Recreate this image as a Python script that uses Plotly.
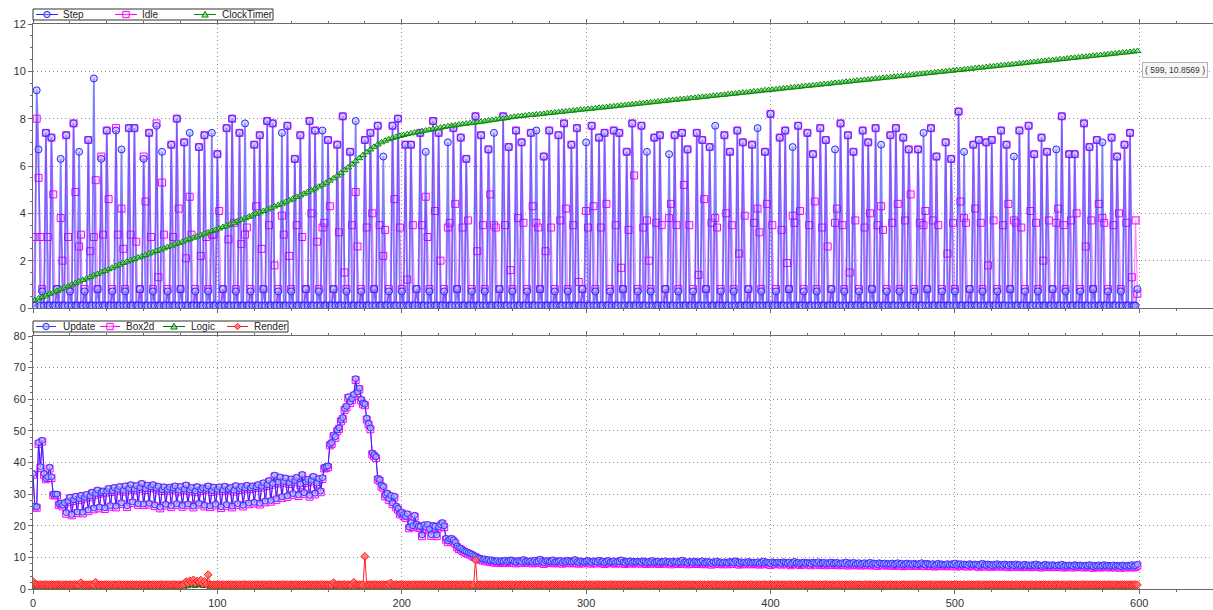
import plotly.graph_objects as go

# ---------------- upper panel: per-frame timings ----------------
step_ms = [
    0.2, 0.1, 9.2, 6.7, 0.1, 0.7, 0.1, 7.4, 0.1, 0.1, 7.2, 0.1, 0.1, 0.8, 0.1,
    6.3, 0.1, 0.1, 7.3, 0.1, 0.7, 0.1, 7.8, 0.1, 0.1, 6.6, 0.1, 0.1, 0.7, 0.1,
    7.1, 0.1, 0.1, 9.7, 0.1, 0.8, 0.1, 6.3, 0.1, 0.1, 7.5, 0.1, 0.1, 0.7, 0.1,
    7.5, 0.1, 0.1, 6.7, 0.1, 0.7, 0.1, 7.6, 0.1, 0.1, 7.6, 0.1, 0.1, 0.8, 0.1,
    6.3, 0.1, 0.1, 7.4, 0.1, 0.7, 0.1, 7.7, 0.1, 0.1, 6.6, 0.1, 0.1, 0.7, 0.1,
    6.9, 0.1, 0.1, 8.0, 0.1, 0.8, 0.1, 7.0, 0.1, 0.1, 7.4, 0.1, 0.1, 0.7, 0.1,
    6.8, 0.1, 0.1, 7.3, 0.1, 0.7, 0.1, 7.4, 0.1, 0.1, 6.5, 0.1, 0.1, 0.8, 0.1,
    7.6, 0.1, 0.1, 8.0, 0.1, 0.7, 0.1, 7.4, 0.1, 0.1, 7.8, 0.1, 0.1, 0.7, 0.1,
    6.9, 0.1, 0.1, 7.3, 0.1, 0.8, 0.1, 7.9, 0.1, 0.1, 7.8, 0.1, 0.1, 0.7, 0.1,
    7.4, 0.1, 0.1, 7.7, 0.1, 0.7, 0.1, 6.3, 0.1, 0.1, 7.3, 0.1, 0.1, 0.8, 0.1,
    7.9, 0.1, 0.1, 7.5, 0.1, 0.7, 0.1, 7.5, 0.1, 0.1, 7.1, 0.1, 0.1, 0.8, 0.1,
    6.9, 0.1, 0.1, 8.1, 0.1, 0.7, 0.1, 6.6, 0.1, 0.1, 7.9, 0.1, 0.1, 0.7, 0.1,
    7.1, 0.1, 0.1, 7.4, 0.1, 0.8, 0.1, 7.7, 0.1, 0.1, 6.4, 0.1, 0.1, 0.7, 0.1,
    7.7, 0.1, 0.1, 8.0, 0.1, 0.7, 0.1, 6.9, 0.1, 0.1, 6.9, 0.1, 0.1, 0.8, 0.1,
    7.4, 0.1, 0.1, 6.6, 0.1, 0.7, 0.1, 7.9, 0.1, 0.1, 7.4, 0.1, 0.1, 0.7, 0.1,
    7.0, 0.1, 0.1, 7.6, 0.1, 0.8, 0.1, 7.2, 0.1, 0.1, 6.3, 0.1, 0.1, 0.7, 0.1,
    8.1, 0.1, 0.1, 7.3, 0.1, 0.7, 0.1, 6.7, 0.1, 0.1, 7.4, 0.1, 0.1, 0.8, 0.1,
    8.1, 0.1, 0.1, 6.8, 0.1, 0.7, 0.1, 7.5, 0.1, 0.1, 7.0, 0.1, 0.1, 0.7, 0.1,
    7.4, 0.1, 0.1, 7.5, 0.1, 0.8, 0.1, 6.4, 0.1, 0.1, 7.5, 0.1, 0.1, 0.7, 0.1,
    7.3, 0.1, 0.1, 7.8, 0.1, 0.7, 0.1, 6.9, 0.1, 0.1, 7.6, 0.1, 0.1, 0.8, 0.1,
    7.0, 0.1, 0.1, 7.7, 0.1, 0.7, 0.1, 7.2, 0.1, 0.1, 7.4, 0.1, 0.1, 0.7, 0.1,
    7.5, 0.1, 0.1, 7.4, 0.1, 0.8, 0.1, 6.6, 0.1, 0.1, 7.8, 0.1, 0.1, 0.7, 0.1,
    7.7, 0.1, 0.1, 6.6, 0.1, 0.7, 0.1, 7.2, 0.1, 0.1, 7.3, 0.1, 0.1, 0.8, 0.1,
    6.5, 0.1, 0.1, 7.3, 0.1, 0.7, 0.1, 7.4, 0.1, 0.1, 6.7, 0.1, 0.1, 0.7, 0.1,
    7.4, 0.1, 0.1, 7.1, 0.1, 0.8, 0.1, 6.8, 0.1, 0.1, 7.7, 0.1, 0.1, 0.7, 0.1,
    7.3, 0.1, 0.1, 6.6, 0.1, 0.7, 0.1, 7.5, 0.1, 0.1, 7.0, 0.1, 0.1, 0.8, 0.1,
    6.9, 0.1, 0.1, 7.6, 0.1, 0.7, 0.1, 6.6, 0.1, 0.1, 8.2, 0.1, 0.1, 0.7, 0.1,
    7.2, 0.1, 0.1, 7.5, 0.1, 0.8, 0.1, 6.8, 0.1, 0.1, 7.7, 0.1, 0.1, 0.7, 0.1,
    7.4, 0.1, 0.1, 6.5, 0.1, 0.7, 0.1, 7.6, 0.1, 0.1, 7.1, 0.1, 0.1, 0.8, 0.1,
    6.7, 0.1, 0.1, 7.8, 0.1, 0.7, 0.1, 7.3, 0.1, 0.1, 6.6, 0.1, 0.1, 0.7, 0.1,
    7.5, 0.1, 0.1, 7.0, 0.1, 0.8, 0.1, 7.6, 0.1, 0.1, 6.9, 0.1, 0.1, 0.7, 0.1,
    7.3, 0.1, 0.1, 7.6, 0.1, 0.7, 0.1, 7.2, 0.1, 0.1, 6.7, 0.1, 0.1, 0.7, 0.1,
    6.7, 0.1, 0.1, 7.4, 0.1, 0.8, 0.1, 7.6, 0.1, 0.1, 6.4, 0.1, 0.1, 0.7, 0.1,
    7.0, 0.1, 0.1, 6.3, 0.1, 0.7, 0.1, 8.3, 0.1, 0.1, 6.6, 0.1, 0.1, 0.8, 0.1,
    6.9, 0.1, 0.1, 7.1, 0.1, 0.7, 0.1, 7.0, 0.1, 0.1, 7.1, 0.1, 0.1, 0.7, 0.1,
    7.5, 0.1, 0.1, 6.9, 0.1, 0.8, 0.1, 6.4, 0.1, 0.1, 7.5, 0.1, 0.1, 0.7, 0.1,
    7.7, 0.1, 0.1, 6.5, 0.1, 0.7, 0.1, 7.2, 0.1, 0.1, 6.6, 0.1, 0.1, 0.8, 0.1,
    6.7, 0.1, 0.1, 8.1, 0.1, 0.7, 0.1, 6.5, 0.1, 0.1, 6.5, 0.1, 0.1, 0.7, 0.1,
    7.8, 0.1, 0.1, 6.8, 0.1, 0.8, 0.1, 7.1, 0.1, 0.1, 7.0, 0.1, 0.1, 0.7, 0.1,
    7.2, 0.1, 0.1, 6.4, 0.1, 0.7, 0.1, 6.9, 0.1, 0.1, 7.4, 0.1, 0.1, 0.1, 0.8,
]

idle_ms = [
    0.1, 3.0, 8.0, 5.5, 3.0, 0.8, 0.1, 7.4, 3.0, 0.1, 7.2, 4.8, 0.1, 0.8, 0.1,
    3.8, 2.0, 0.1, 7.3, 3.0, 0.8, 0.1, 7.8, 4.9, 0.1, 2.6, 3.1, 0.1, 0.8, 0.1,
    7.1, 2.4, 0.1, 3.0, 5.4, 0.8, 0.1, 6.4, 3.1, 0.1, 7.5, 4.6, 0.1, 0.8, 0.1,
    7.6, 3.1, 0.1, 4.2, 2.5, 0.8, 0.1, 7.6, 3.1, 0.1, 7.6, 2.8, 0.1, 0.8, 0.1,
    6.4, 4.5, 0.1, 7.4, 3.0, 0.8, 0.1, 7.8, 1.3, 0.1, 5.3, 3.1, 0.1, 0.8, 0.1,
    6.9, 3.0, 0.1, 8.0, 4.2, 0.8, 0.1, 7.0, 2.1, 0.1, 4.7, 3.1, 0.1, 0.8, 0.1,
    6.8, 2.2, 0.1, 7.3, 3.0, 0.8, 0.1, 3.1, 3.1, 0.1, 6.5, 4.1, 0.1, 0.8, 0.1,
    7.6, 2.9, 0.1, 8.0, 3.6, 0.8, 0.1, 7.4, 2.7, 0.1, 3.1, 3.4, 0.1, 0.8, 0.1,
    6.9, 4.3, 0.1, 7.3, 2.5, 0.8, 0.1, 7.9, 3.5, 0.1, 7.8, 1.8, 0.1, 0.8, 0.1,
    3.9, 3.1, 0.1, 7.7, 2.2, 0.8, 0.1, 6.3, 3.5, 0.1, 7.3, 3.0, 0.1, 0.8, 0.1,
    7.9, 4.0, 0.1, 7.5, 2.8, 0.8, 0.1, 3.4, 3.6, 0.1, 7.1, 4.3, 0.1, 0.8, 0.1,
    6.9, 3.2, 0.1, 8.1, 1.5, 0.8, 0.1, 6.6, 3.5, 0.1, 4.9, 2.6, 0.1, 0.8, 0.1,
    7.1, 3.4, 0.1, 7.4, 4.0, 0.8, 0.1, 7.7, 3.5, 0.1, 2.2, 3.3, 0.1, 0.8, 0.1,
    7.7, 4.6, 0.1, 8.0, 3.4, 0.8, 0.1, 6.9, 1.2, 0.1, 6.9, 3.5, 0.1, 0.8, 0.1,
    7.4, 3.5, 0.1, 4.7, 3.0, 0.8, 0.1, 7.9, 4.1, 0.1, 7.4, 2.0, 0.1, 0.8, 0.1,
    3.4, 3.6, 0.1, 7.6, 4.4, 0.8, 0.1, 7.2, 3.4, 0.1, 6.3, 3.7, 0.1, 0.8, 0.1,
    8.1, 2.4, 0.1, 7.3, 3.5, 0.8, 0.1, 6.7, 4.8, 0.1, 3.5, 3.4, 0.1, 0.8, 0.1,
    8.1, 3.5, 0.1, 6.8, 1.6, 0.8, 0.1, 7.5, 3.8, 0.1, 7.0, 3.6, 0.1, 0.8, 0.1,
    7.4, 4.3, 0.1, 3.6, 3.4, 0.8, 0.1, 6.4, 2.4, 0.1, 7.5, 3.4, 0.1, 0.8, 0.1,
    7.3, 3.7, 0.1, 7.8, 4.2, 0.8, 0.1, 6.9, 3.5, 0.1, 7.6, 1.1, 0.1, 0.8, 0.1,
    4.1, 3.4, 0.1, 7.7, 4.3, 0.8, 0.1, 7.2, 3.4, 0.1, 7.4, 4.4, 0.1, 0.8, 0.1,
    7.5, 3.5, 0.1, 7.4, 1.7, 0.8, 0.1, 6.6, 3.3, 0.1, 7.8, 5.6, 0.1, 0.8, 0.1,
    7.7, 3.4, 0.1, 3.7, 2.0, 0.8, 0.1, 7.2, 3.6, 0.1, 7.3, 3.5, 0.1, 0.8, 0.1,
    3.8, 4.4, 0.1, 7.3, 3.5, 0.8, 0.1, 7.4, 5.2, 0.1, 6.7, 3.5, 0.1, 0.8, 0.1,
    7.4, 1.4, 0.1, 7.1, 4.6, 0.8, 0.1, 6.8, 3.6, 0.1, 3.8, 3.4, 0.1, 0.8, 0.1,
    7.3, 4.0, 0.1, 6.6, 3.5, 0.8, 0.1, 7.5, 2.3, 0.1, 7.0, 3.9, 0.1, 0.8, 0.1,
    6.9, 3.6, 0.1, 4.2, 3.2, 0.8, 0.1, 6.6, 4.4, 0.1, 8.2, 3.5, 0.1, 0.8, 0.1,
    7.2, 3.3, 0.1, 7.5, 1.9, 0.8, 0.1, 3.9, 3.6, 0.1, 7.7, 4.1, 0.1, 0.8, 0.1,
    7.4, 3.5, 0.1, 6.5, 4.5, 0.8, 0.1, 7.6, 3.4, 0.1, 7.1, 2.6, 0.1, 0.8, 0.1,
    3.6, 4.2, 0.1, 7.8, 3.5, 0.8, 0.1, 7.3, 1.5, 0.1, 6.6, 3.7, 0.1, 0.8, 0.1,
    7.5, 3.4, 0.1, 7.0, 4.0, 0.8, 0.1, 7.6, 3.5, 0.1, 4.3, 3.3, 0.1, 0.8, 0.1,
    7.3, 3.6, 0.1, 7.6, 4.4, 0.8, 0.1, 7.2, 3.7, 0.1, 6.7, 4.8, 0.1, 0.8, 0.1,
    6.7, 3.6, 0.1, 3.5, 4.1, 0.8, 0.1, 7.6, 3.7, 0.1, 6.4, 3.5, 0.1, 0.8, 0.1,
    7.0, 2.3, 0.1, 6.3, 3.6, 0.8, 0.1, 8.3, 4.5, 0.1, 3.8, 3.6, 0.1, 0.8, 0.1,
    6.9, 4.2, 0.1, 7.1, 3.6, 0.8, 0.1, 7.0, 1.8, 0.1, 7.1, 3.7, 0.1, 0.8, 0.1,
    7.5, 3.5, 0.1, 6.9, 4.4, 0.8, 0.1, 3.7, 3.6, 0.1, 7.5, 3.4, 0.1, 0.8, 0.1,
    7.7, 4.1, 0.1, 6.5, 3.6, 0.8, 0.1, 7.2, 2.0, 0.1, 6.6, 3.7, 0.1, 0.8, 0.1,
    3.6, 4.2, 0.1, 8.1, 3.5, 0.8, 0.1, 6.5, 3.7, 0.1, 6.5, 4.0, 0.1, 0.8, 0.1,
    7.8, 2.6, 0.1, 6.8, 3.7, 0.8, 0.1, 7.1, 4.4, 0.1, 3.8, 3.6, 0.1, 0.8, 0.1,
    7.2, 3.5, 0.1, 6.4, 4.0, 0.8, 0.1, 6.9, 3.6, 0.1, 7.4, 1.3, 0.1, 3.7, 0.6,
]

# ClockTimer is logged on odd frames 1, 3, ..., 599
clock_frames = list(range(1, 600, 2))
clock_timer = [
    0.33, 0.40, 0.46, 0.53, 0.60, 0.66, 0.73, 0.79, 0.86, 0.92,
    0.99, 1.05, 1.12, 1.18, 1.25, 1.31, 1.38, 1.44, 1.51, 1.57,
    1.64, 1.70, 1.77, 1.83, 1.90, 1.96, 2.02, 2.07, 2.13, 2.18,
    2.24, 2.30, 2.35, 2.41, 2.46, 2.52, 2.58, 2.63, 2.69, 2.74,
    2.80, 2.86, 2.91, 2.97, 3.02, 3.08, 3.14, 3.19, 3.25, 3.30,
    3.36, 3.42, 3.48, 3.54, 3.60, 3.67, 3.73, 3.79, 3.85, 3.91,
    3.98, 4.04, 4.10, 4.16, 4.22, 4.29, 4.35, 4.41, 4.48, 4.55,
    4.62, 4.69, 4.76, 4.83, 4.90, 4.97, 5.05, 5.13, 5.21, 5.29,
    5.38, 5.48, 5.59, 5.70, 5.82, 5.94, 6.07, 6.20, 6.33, 6.46,
    6.58, 6.70, 6.81, 6.91, 7.00, 7.07, 7.13, 7.18, 7.23, 7.27,
    7.31, 7.35, 7.38, 7.41, 7.44, 7.47, 7.50, 7.53, 7.56, 7.59,
    7.62, 7.65, 7.68, 7.70, 7.72, 7.75, 7.77, 7.79, 7.81, 7.83,
    7.85, 7.87, 7.89, 7.92, 7.94, 7.96, 7.99, 8.01, 8.03, 8.06,
    8.08,
    8.10, 8.11, 8.13, 8.15, 8.16, 8.18, 8.19, 8.21, 8.23, 8.24,
    8.26, 8.28, 8.29, 8.31, 8.33, 8.34, 8.36, 8.38, 8.39, 8.41,
    8.42, 8.44, 8.46, 8.47, 8.49, 8.51, 8.52, 8.54, 8.56, 8.57,
    8.59, 8.60, 8.62, 8.64, 8.65, 8.67, 8.69, 8.70, 8.72, 8.74,
    8.75, 8.77, 8.79, 8.80, 8.82, 8.83, 8.85, 8.87, 8.88, 8.90,
    8.92, 8.93, 8.95, 8.97, 8.98, 9.00, 9.01, 9.03, 9.05, 9.06,
    9.08, 9.10, 9.11, 9.13, 9.15, 9.16, 9.18, 9.20, 9.21, 9.23,
    9.24, 9.26, 9.28, 9.29, 9.31, 9.33, 9.34, 9.36, 9.38, 9.39,
    9.41, 9.42, 9.44, 9.46, 9.47, 9.49, 9.51, 9.52, 9.54, 9.56,
    9.57, 9.59, 9.61, 9.62, 9.64, 9.65, 9.67, 9.69, 9.70, 9.72,
    9.74, 9.75, 9.77, 9.79, 9.80, 9.82, 9.83, 9.85, 9.87, 9.88,
    9.90, 9.92, 9.93, 9.95, 9.97, 9.98, 10.00, 10.02, 10.03, 10.05,
    10.06, 10.08, 10.10, 10.11, 10.13, 10.15, 10.16, 10.18, 10.20, 10.21,
    10.23, 10.25, 10.26, 10.28, 10.29, 10.31, 10.33, 10.34, 10.36, 10.38,
    10.39, 10.41, 10.43, 10.44, 10.46, 10.47, 10.49, 10.51, 10.52, 10.54,
    10.56, 10.57, 10.59, 10.61, 10.62, 10.64, 10.66, 10.67, 10.69, 10.70,
    10.72, 10.74, 10.75, 10.77, 10.79, 10.80, 10.82, 10.84, 10.8569,
]

# ---------------- lower panel: subsystem timings ----------------
update_ms = [
    36.5, 26.2, 26.0, 46.3, 38.7, 47.0, 36.5, 35.0, 35.5, 38.5, 35.5, 30.0, 30.0, 30.0, 27.0,
    27.2, 26.5, 27.3, 24.2, 27.8, 29.0, 23.6, 28.2, 29.3, 24.4, 28.6, 29.6, 24.3, 29.0, 29.9,
    25.0, 29.4, 30.6, 25.6, 30.2, 31.3, 25.9, 30.6, 31.0, 25.7, 30.9, 31.8, 26.4, 31.1, 32.1,
    26.2, 31.5, 32.4, 27.3, 31.2, 32.6, 26.3, 31.8, 33.0, 27.6, 31.6, 32.7, 27.0, 32.1, 33.4,
    26.9, 31.7, 32.8, 27.1, 32.3, 33.0, 26.6, 31.9, 32.5, 25.9, 31.4, 32.3, 26.8, 31.5, 32.2,
    26.3, 31.9, 32.6, 27.0, 31.2, 32.4, 26.4, 31.6, 32.9, 26.9, 31.3, 32.1, 26.2, 31.0, 32.4,
    27.1, 31.4, 32.0, 26.5, 31.8, 32.6, 26.3, 31.1, 32.2, 26.8, 31.5, 32.3, 26.0, 31.3, 32.5,
    26.7, 31.6, 32.1, 26.2, 31.2, 32.7, 27.0, 31.7, 32.4, 26.5, 31.9, 32.8, 27.2, 32.0, 32.6,
    27.4, 32.3, 33.0, 27.1, 32.5, 33.6, 27.8, 33.0, 34.3, 28.0, 33.4, 36.0, 28.6, 33.8, 35.4,
    29.2, 34.0, 35.1, 29.5, 33.6, 34.8, 30.2, 34.3, 35.3, 29.8, 33.2, 36.2, 30.5, 33.9, 34.7,
    29.6, 34.4, 35.6, 30.3, 33.5, 34.9, 31.0, 35.2, 38.5, 38.7, 38.9, 45.8, 46.3, 48.7, 48.2,
    50.3, 51.0, 53.4, 54.2, 57.0, 57.8, 60.8, 59.2, 60.2, 61.5, 66.5, 62.3, 63.5, 60.0, 58.8,
    58.5, 54.0, 52.4, 50.9, 43.0, 42.4, 41.8, 35.0, 34.6, 32.8, 32.4, 29.7, 30.3, 28.6, 29.6,
    27.2, 29.3, 26.2, 25.5, 24.0, 24.3, 23.5, 22.9, 23.8, 19.6, 21.0, 20.0, 23.3, 20.5, 19.8,
    19.8, 17.1, 20.3, 19.5, 20.4, 19.0, 17.2, 20.1, 19.8, 17.1, 19.6, 20.4, 21.0, 20.0, 16.0,
    15.2, 15.8, 16.0, 15.5, 14.8, 13.6, 13.0, 12.9, 12.4, 12.0, 11.8, 11.5, 11.3, 11.0, 10.6,
    10.4, 10.0, 9.8, 9.6, 9.4, 9.5, 9.1, 9.3, 8.9, 9.2, 8.8, 8.7, 9.0, 8.6, 8.9,
    8.8, 9.1, 8.6, 8.9, 9.2, 9.1, 8.7, 8.5, 9.0, 8.8, 8.6, 9.3, 8.7, 8.9, 8.7,
    8.9, 8.5, 9.1, 8.6, 8.8, 9.4, 8.7, 8.3, 8.9, 9.0, 8.6, 8.8, 9.2, 8.5, 8.7,
    8.8, 9.0, 8.4, 8.9, 8.6, 9.1, 8.7, 8.5, 8.8, 9.3, 8.6, 8.4, 8.9, 8.7, 8.5,
    8.8, 9.0, 8.6, 8.4, 8.9, 8.7, 8.5, 9.1, 8.6, 8.8, 8.3, 8.7, 9.0, 8.5, 8.6,
    8.9, 8.4, 8.7, 8.6, 9.2, 8.5, 8.3, 8.8, 8.6, 8.9, 8.4, 8.7, 8.5, 8.8, 8.6,
    8.4, 8.9, 8.6, 8.3, 8.7, 8.5, 9.0, 8.4, 8.6, 8.8, 8.3, 8.5, 8.7, 8.9, 8.4,
    8.6, 8.2, 8.8, 8.5, 8.7, 8.3, 8.6, 9.1, 8.4, 8.5, 8.2, 8.7, 8.6, 8.3, 8.8,
    8.5, 8.3, 8.6, 8.9, 8.2, 8.4, 8.7, 8.5, 8.1, 8.6, 8.4, 8.8, 8.3, 8.5, 8.2,
    8.6, 8.4, 8.2, 8.7, 8.5, 8.3, 8.9, 8.4, 8.1, 8.6, 8.3, 8.5, 8.2, 8.7, 8.4,
    8.2, 8.5, 8.3, 8.6, 8.1, 8.4, 8.8, 8.2, 8.5, 8.3, 8.0, 8.6, 8.4, 8.2, 8.5,
    8.3, 8.1, 8.6, 8.4, 8.2, 8.5, 7.9, 8.3, 8.7, 8.2, 8.4, 8.0, 8.3, 8.5, 8.1,
    8.4, 8.2, 7.9, 8.5, 8.3, 8.1, 8.6, 8.0, 8.2, 8.4, 7.9, 8.3, 8.1, 8.5, 8.0,
    8.2, 8.4, 7.9, 8.1, 8.3, 8.0, 8.5, 7.8, 8.2, 8.1, 8.4, 7.9, 8.0, 8.3, 7.8,
    8.1, 8.3, 7.9, 8.0, 8.4, 7.8, 8.2, 8.0, 7.7, 8.3, 8.1, 7.9, 8.2, 7.8, 8.0,
    7.9, 8.2, 7.7, 8.0, 8.3, 7.8, 8.1, 7.6, 7.9, 8.2, 7.8, 8.0, 7.7, 8.1, 7.9,
    7.7, 8.0, 8.3, 7.8, 7.6, 8.1, 7.9, 7.7, 8.0, 7.5, 7.8, 8.1, 7.7, 7.9, 7.6,
    7.8, 8.0, 7.6, 7.9, 7.7, 8.2, 7.5, 7.8, 8.0, 7.6, 7.9, 7.7, 7.5, 8.0, 7.8,
    7.6, 7.9, 7.7, 7.4, 7.8, 8.1, 7.6, 7.5, 7.9, 7.7, 7.4, 7.8, 7.6, 8.0, 7.5,
    7.7, 7.5, 7.9, 7.6, 7.3, 7.8, 7.6, 7.4, 7.9, 7.5, 7.7, 7.3, 7.6, 7.8, 7.4,
    7.6, 7.3, 7.7, 7.5, 7.9, 7.4, 7.6, 7.2, 7.5, 7.8, 7.4, 7.6, 7.3, 7.7, 7.5,
    7.3, 7.6, 7.4, 7.8, 7.2, 7.5, 7.3, 7.6, 7.4, 7.2, 7.7, 7.5, 7.3, 7.6, 7.4,
    7.2, 7.5, 7.3, 7.7, 7.4, 7.1, 7.5, 7.3, 7.6, 7.2, 7.4, 7.7, 7.3, 7.5, 7.2,
    7.4, 7.6, 7.2, 7.5, 7.3, 7.1, 7.6, 7.4, 7.2, 7.5, 7.3, 7.7, 7.2, 7.4, 7.8,
]

box2d_ms = [
    36.1, 25.8, 25.7, 45.9, 38.3, 46.6, 36.1, 34.7, 35.1, 38.1, 35.1, 29.6, 29.7, 29.6, 26.6,
    26.8, 26.1, 26.9, 23.8, 27.4, 28.6, 23.3, 27.8, 28.9, 24.0, 28.2, 29.2, 23.9, 28.6, 29.5,
    24.6, 29.0, 30.2, 25.2, 29.8, 30.9, 25.5, 30.2, 30.6, 25.3, 30.5, 31.4, 26.0, 30.7, 31.7,
    25.8, 31.1, 32.0, 26.9, 30.8, 32.2, 25.9, 31.4, 32.6, 27.2, 31.2, 32.3, 26.6, 31.7, 33.0,
    26.5, 31.3, 32.4, 26.7, 31.9, 32.6, 26.2, 31.5, 32.1, 25.5, 31.0, 31.9, 26.4, 31.1, 31.8,
    25.9, 31.5, 32.2, 26.6, 30.8, 32.0, 26.0, 31.2, 32.5, 26.5, 30.9, 31.7, 25.8, 30.6, 32.0,
    26.7, 31.0, 31.6, 26.1, 31.4, 32.2, 25.9, 30.7, 31.8, 26.4, 31.1, 31.9, 25.6, 30.9, 32.1,
    26.3, 31.2, 31.7, 25.8, 30.8, 32.3, 26.6, 31.3, 32.0, 26.1, 31.5, 32.4, 26.8, 31.6, 32.2,
    27.0, 31.9, 32.6, 26.7, 32.1, 33.2, 27.4, 32.6, 33.9, 27.6, 33.0, 35.6, 28.2, 33.4, 35.0,
    28.8, 33.6, 34.7, 29.1, 33.2, 34.4, 29.8, 33.9, 34.9, 29.4, 32.8, 35.8, 30.1, 33.5, 34.3,
    29.2, 34.0, 35.2, 29.9, 33.1, 34.5, 30.6, 34.8, 38.1, 38.3, 38.5, 45.4, 45.9, 48.3, 47.8,
    49.9, 50.6, 53.0, 53.8, 56.6, 57.4, 60.4, 58.8, 59.8, 61.1, 66.1, 61.9, 63.1, 59.6, 58.4,
    58.1, 53.6, 52.0, 50.5, 42.6, 42.0, 41.4, 34.6, 34.2, 32.4, 32.0, 29.3, 29.9, 28.2, 29.2,
    26.8, 28.9, 25.8, 25.1, 23.6, 23.9, 23.1, 22.5, 23.4, 19.2, 20.6, 19.6, 22.9, 20.1, 19.4,
    19.4, 16.7, 19.9, 19.1, 20.0, 18.6, 16.8, 19.7, 19.4, 16.7, 19.2, 20.0, 20.6, 19.6, 15.6,
    14.8, 15.4, 15.6, 15.1, 14.4, 13.2, 12.6, 12.5, 12.0, 11.6, 11.4, 11.1, 10.9, 10.6, 10.2,
    10.0, 9.6, 9.4, 9.2, 9.0, 9.1, 8.7, 8.9, 8.5, 8.8, 8.4, 8.3, 8.6, 8.2, 8.5,
    8.4, 8.7, 8.2, 8.5, 8.8, 8.7, 8.3, 8.1, 8.6, 8.4, 8.2, 8.9, 8.3, 8.5, 8.3,
    8.5, 8.1, 8.7, 8.2, 8.4, 9.0, 8.3, 7.9, 8.5, 8.6, 8.2, 8.4, 8.8, 8.1, 8.3,
    8.4, 8.6, 8.0, 8.5, 8.2, 8.7, 8.3, 8.1, 8.4, 8.9, 8.2, 8.0, 8.5, 8.3, 8.1,
    8.4, 8.6, 8.2, 8.0, 8.5, 8.3, 8.1, 8.7, 8.2, 8.4, 7.9, 8.3, 8.6, 8.1, 8.2,
    8.5, 8.0, 8.3, 8.2, 8.8, 8.1, 7.9, 8.4, 8.2, 8.5, 8.0, 8.3, 8.1, 8.4, 8.2,
    8.0, 8.5, 8.2, 7.9, 8.3, 8.1, 8.6, 8.0, 8.2, 8.4, 7.9, 8.1, 8.3, 8.5, 8.0,
    8.2, 7.8, 8.4, 8.1, 8.3, 7.9, 8.2, 8.7, 8.0, 8.1, 7.8, 8.3, 8.2, 7.9, 8.4,
    8.1, 7.9, 8.2, 8.5, 7.8, 8.0, 8.3, 8.1, 7.7, 8.2, 8.0, 8.4, 7.9, 8.1, 7.8,
    8.2, 8.0, 7.8, 8.3, 8.1, 7.9, 8.5, 8.0, 7.7, 8.2, 7.9, 8.1, 7.8, 8.3, 8.0,
    7.8, 8.1, 7.9, 8.2, 7.7, 8.0, 8.4, 7.8, 8.1, 7.9, 7.6, 8.2, 8.0, 7.8, 8.1,
    7.9, 7.7, 8.2, 8.0, 7.8, 8.1, 7.5, 7.9, 8.3, 7.8, 8.0, 7.6, 7.9, 8.1, 7.7,
    8.0, 7.8, 7.5, 8.1, 7.9, 7.7, 8.2, 7.6, 7.8, 8.0, 7.5, 7.9, 7.7, 8.1, 7.6,
    7.8, 8.0, 7.5, 7.7, 7.9, 7.6, 8.1, 7.4, 7.8, 7.7, 8.0, 7.5, 7.6, 7.9, 7.4,
    7.7, 7.9, 7.5, 7.6, 8.0, 7.4, 7.8, 7.6, 7.3, 7.9, 7.7, 7.5, 7.8, 7.4, 7.6,
    7.5, 7.8, 7.3, 7.6, 7.9, 7.4, 7.7, 7.2, 7.5, 7.8, 7.4, 7.6, 7.3, 7.7, 7.5,
    7.3, 7.6, 7.9, 7.4, 7.2, 7.7, 7.5, 7.3, 7.6, 7.1, 7.4, 7.7, 7.3, 7.5, 7.2,
    7.4, 7.6, 7.2, 7.5, 7.3, 7.8, 7.1, 7.4, 7.6, 7.2, 7.5, 7.3, 7.1, 7.6, 7.4,
    7.2, 7.5, 7.3, 7.0, 7.4, 7.7, 7.2, 7.1, 7.5, 7.3, 7.0, 7.4, 7.2, 7.6, 7.1,
    7.3, 7.1, 7.5, 7.2, 6.9, 7.4, 7.2, 7.0, 7.5, 7.1, 7.3, 6.9, 7.2, 7.4, 7.0,
    7.2, 6.9, 7.3, 7.1, 7.5, 7.0, 7.2, 6.8, 7.1, 7.4, 7.0, 7.2, 6.9, 7.3, 7.1,
    6.9, 7.2, 7.0, 7.4, 6.8, 7.1, 6.9, 7.2, 7.0, 6.8, 7.3, 7.1, 6.9, 7.2, 7.0,
    6.8, 7.1, 6.9, 7.3, 7.0, 6.7, 7.1, 6.9, 7.2, 6.8, 7.0, 7.3, 6.9, 7.1, 6.8,
    7.0, 7.2, 6.8, 7.1, 6.9, 6.7, 7.2, 7.0, 6.8, 7.1, 6.9, 7.3, 6.8, 7.0, 7.4,
]

# Logic is logged on even frames 0, 2, ..., 598
logic_frames = list(range(0, 600, 2))
logic_ms = [
    0.6, 0.4, 0.3, 0.3, 0.4, 0.3, 0.3, 0.4, 0.3, 0.3, 0.3, 0.4, 0.3, 0.3, 0.3,
    0.3, 0.4, 0.3, 0.3, 0.3, 0.4, 0.3, 0.3, 0.4, 0.3, 0.3, 0.3, 0.4, 0.3, 0.3,
    0.3, 0.4, 0.3, 0.3, 0.3, 0.4, 0.3, 0.3, 0.4, 0.3, 0.3, 0.3, 0.8, 1.1, 0.9,
    1.2, 0.9, 1.0, 0.4, 0.3, 0.3, 0.4, 0.3, 0.3, 0.3, 0.4, 0.3, 0.3, 0.4, 0.3,
    0.3, 0.3, 0.4, 0.3, 0.3, 0.4, 0.3, 0.3, 0.3, 0.4, 0.3, 0.3, 0.4, 0.3, 0.3,
    0.4, 0.3, 0.3, 0.3, 0.4, 0.3, 0.3, 0.4, 0.3, 0.3, 0.5, 0.3, 0.3, 0.4, 0.3,
    0.3, 0.4, 0.3, 0.3, 0.3, 0.4, 0.3, 0.3, 0.4, 0.3, 0.3, 0.3, 0.4, 0.3, 0.3,
    0.3, 0.4, 0.3, 0.3, 0.4, 0.3, 0.3, 0.3, 0.4, 0.3, 0.3, 0.4, 0.3, 0.3, 0.3,
    0.4, 0.3, 0.3, 0.4, 0.3, 0.3, 0.3, 0.4, 0.3, 0.3, 0.4, 0.3, 0.3, 0.3, 0.4,
    0.3, 0.3, 0.4, 0.3, 0.3, 0.3, 0.4, 0.3, 0.3, 0.4, 0.3, 0.3, 0.3, 0.4, 0.3,
    0.3, 0.4, 0.3, 0.3, 0.3, 0.4, 0.3, 0.3, 0.4, 0.3, 0.3, 0.3, 0.4, 0.3, 0.3,
    0.4, 0.3, 0.3, 0.3, 0.4, 0.3, 0.3, 0.4, 0.3, 0.3, 0.3, 0.4, 0.3, 0.3, 0.4,
    0.3, 0.3, 0.4, 0.3, 0.3, 0.3, 0.4, 0.3, 0.3, 0.4, 0.3, 0.3, 0.3, 0.4, 0.3,
    0.3, 0.4, 0.3, 0.3, 0.4, 0.3, 0.3, 0.3, 0.4, 0.3, 0.3, 0.4, 0.3, 0.3, 0.3,
    0.4, 0.3, 0.3, 0.4, 0.3, 0.3, 0.3, 0.4, 0.3, 0.3, 0.4, 0.3, 0.3, 0.3, 0.4,
    0.3, 0.3, 0.4, 0.3, 0.3, 0.3, 0.4, 0.3, 0.3, 0.4, 0.3, 0.3, 0.3, 0.4, 0.3,
    0.3, 0.4, 0.3, 0.3, 0.3, 0.4, 0.3, 0.3, 0.4, 0.3, 0.3, 0.3, 0.4, 0.3, 0.3,
    0.4, 0.3, 0.3, 0.3, 0.4, 0.3, 0.3, 0.4, 0.3, 0.3, 0.3, 0.4, 0.3, 0.3, 0.4,
    0.3, 0.3, 0.4, 0.3, 0.3, 0.3, 0.4, 0.3, 0.3, 0.4, 0.3, 0.3, 0.3, 0.4, 0.3,
    0.3, 0.4, 0.3, 0.3, 0.4, 0.3, 0.3, 0.3, 0.4, 0.3, 0.3, 0.4, 0.3, 0.3, 0.3,
]

render_ms = [
    2.4, 1.6, 1.4, 1.3, 1.4, 1.3, 1.4, 1.4, 1.3, 1.4, 1.3, 1.4, 1.3, 1.4, 1.4, 1.3, 1.4, 1.3, 1.4, 1.3, 1.4, 1.3, 1.4, 1.4, 1.3, 1.4, 2.0, 1.4, 1.3, 1.4,
    1.3, 1.4, 1.4, 1.3, 2.1, 1.4, 1.3, 1.4, 1.3, 1.4, 1.4, 1.3, 1.4, 1.3, 1.4, 1.3, 1.4, 1.4, 1.3, 1.4, 1.3, 1.4, 1.3, 1.4, 1.4, 1.3, 1.4, 1.3, 1.4, 1.3,
    1.4, 1.3, 1.4, 1.4, 1.3, 1.4, 1.3, 1.4, 1.3, 1.4, 1.4, 1.3, 1.4, 1.3, 1.4, 1.3, 1.4, 1.4, 1.3, 1.4, 1.3, 1.4, 1.6, 2.3, 1.8, 2.6, 2.1, 2.9, 1.9, 2.5,
    2.2, 2.8, 1.7, 2.4, 1.5, 4.5, 1.4, 1.3, 1.4, 1.3, 1.4, 1.4, 1.3, 1.4, 1.3, 1.4, 1.3, 1.4, 1.4, 1.3, 1.4, 1.3, 1.4, 1.3, 1.4, 1.4, 1.3, 1.4, 1.3, 1.4,
    1.3, 1.4, 1.4, 1.3, 1.4, 1.3, 1.4, 1.3, 1.4, 1.4, 1.3, 1.4, 1.3, 1.4, 1.3, 1.4, 1.4, 1.3, 1.4, 1.3, 1.4, 1.3, 1.4, 1.4, 1.3, 1.4, 1.3, 1.4, 1.3, 1.4,
    1.4, 1.3, 1.4, 1.3, 1.4, 1.3, 1.4, 1.4, 1.3, 1.4, 1.3, 1.4, 1.3, 2.0, 1.4, 1.3, 1.4, 1.3, 1.4, 1.4, 1.3, 1.4, 1.3, 1.4, 2.1, 1.4, 1.3, 1.4, 1.3, 1.4,
    10.3, 1.4, 1.3, 1.4, 1.3, 1.4, 1.4, 1.3, 1.4, 1.3, 1.4, 1.3, 1.4, 1.4, 1.9, 1.4, 1.3, 1.4, 1.3, 1.4, 1.4, 1.3, 1.4, 1.3, 1.4, 1.3, 1.4, 1.4, 1.3, 1.4,
    1.3, 1.4, 1.4, 1.3, 1.4, 1.3, 1.4, 1.3, 1.4, 1.4, 1.3, 1.4, 1.3, 1.4, 1.3, 1.4, 1.4, 1.3, 1.4, 1.3, 1.4, 1.3, 1.4, 1.4, 1.3, 1.4, 1.3, 1.4, 1.3, 1.4,
    9.2, 1.4, 1.3, 1.4, 1.3, 1.4, 1.4, 1.3, 1.4, 1.3, 1.4, 1.3, 1.4, 1.4, 1.3, 1.4, 1.3, 1.4, 1.3, 1.4, 1.4, 1.3, 1.4, 1.3, 1.4, 1.3, 1.4, 1.4, 1.3, 1.4,
    1.3, 1.4, 1.4, 1.3, 1.4, 1.3, 1.4, 1.3, 1.4, 1.4, 1.3, 1.4, 1.3, 1.4, 1.3, 1.4, 1.4, 1.3, 1.4, 1.3, 1.4, 1.3, 1.4, 1.4, 1.3, 1.4, 1.3, 1.4, 1.3, 1.4,
    1.4, 1.3, 1.4, 1.3, 1.4, 1.3, 1.4, 1.4, 1.3, 1.4, 1.3, 1.4, 1.3, 1.4, 1.4, 1.3, 1.4, 1.3, 1.4, 1.3, 1.4, 1.4, 1.3, 1.4, 1.3, 1.4, 1.3, 1.4, 1.4, 1.3,
    1.4, 1.3, 1.4, 1.4, 1.3, 1.4, 1.3, 1.4, 1.3, 1.4, 1.4, 1.3, 1.4, 1.3, 1.4, 1.3, 1.4, 1.4, 1.3, 1.4, 1.3, 1.4, 1.3, 1.4, 1.4, 1.3, 1.4, 1.3, 1.4, 1.3,
    1.3, 1.4, 1.4, 1.3, 1.4, 1.3, 1.4, 1.3, 1.4, 1.4, 1.3, 1.4, 1.3, 1.4, 1.3, 1.4, 1.4, 1.3, 1.4, 1.3, 1.4, 1.3, 1.4, 1.4, 1.3, 1.4, 1.3, 1.4, 1.3, 1.4,
    1.4, 1.3, 1.4, 1.3, 1.4, 1.3, 1.4, 1.4, 1.3, 1.4, 1.3, 1.4, 1.3, 1.4, 1.4, 1.3, 1.4, 1.3, 1.4, 1.3, 1.4, 1.4, 1.3, 1.4, 1.3, 1.4, 1.3, 1.4, 1.4, 1.3,
    1.4, 1.3, 1.4, 1.4, 1.3, 1.4, 1.3, 1.4, 1.3, 1.4, 1.4, 1.3, 1.4, 1.3, 1.4, 1.3, 1.4, 1.4, 1.3, 1.4, 1.3, 1.4, 1.3, 1.4, 1.4, 1.3, 1.4, 1.3, 1.4, 1.3,
    1.3, 1.4, 1.4, 1.3, 1.4, 1.3, 1.4, 1.3, 1.4, 1.4, 1.3, 1.4, 1.3, 1.4, 1.3, 1.4, 1.4, 1.3, 1.4, 1.3, 1.4, 1.3, 1.4, 1.4, 1.3, 1.4, 1.3, 1.4, 1.3, 1.4,
    1.4, 1.3, 1.4, 1.3, 1.4, 1.3, 1.4, 1.4, 1.3, 1.4, 1.3, 1.4, 1.3, 1.4, 1.4, 1.3, 1.4, 1.3, 1.4, 1.3, 1.4, 1.4, 1.3, 1.4, 1.3, 1.4, 1.3, 1.4, 1.4, 1.3,
    1.4, 1.3, 1.4, 1.4, 1.3, 1.4, 1.3, 1.4, 1.3, 1.4, 1.4, 1.3, 1.4, 1.3, 1.4, 1.3, 1.4, 1.4, 1.3, 1.4, 1.3, 1.4, 1.3, 1.4, 1.4, 1.3, 1.4, 1.3, 1.4, 1.3,
    1.3, 1.4, 1.4, 1.3, 1.4, 1.3, 1.4, 1.3, 1.4, 1.4, 1.3, 1.4, 1.3, 1.4, 1.3, 1.4, 1.4, 1.3, 1.4, 1.3, 1.4, 1.3, 1.4, 1.4, 1.3, 1.4, 1.3, 1.4, 1.3, 1.4,
    1.4, 1.3, 1.4, 1.3, 1.4, 1.3, 1.4, 1.4, 1.3, 1.4, 1.3, 1.4, 1.3, 1.4, 1.4, 1.3, 1.4, 1.3, 1.4, 1.3, 1.4, 1.4, 1.3, 1.4, 1.3, 1.4, 1.3, 1.4, 1.4, 1.3,
]

FONT = "Liberation Sans, Arial, sans-serif"
AXIS_LINE = "#6a6a6a"
GRID = "#8c8c8c"

# page geometry in pixels: plot area spans x 33..1213 and y 24..589
LEFT, RIGHT, PLOT_TOP, PLOT_BOTTOM = 33, 1213, 24, 589
W, H = RIGHT - LEFT, PLOT_BOTTOM - PLOT_TOP


def px(x):
    return (x - LEFT) / W


def py(y):
    return (PLOT_BOTTOM - y) / H


def frames(values):
    return list(range(len(values)))


# line colour, symbol, marker size, marker fill, marker edge, line width
STYLES = {
    "Step": ("rgba(50,50,255,0.62)", "circle", 7, "rgba(170,170,255,0.5)", "rgb(40,40,255)", 1.8),
    "Idle": ("rgba(255,0,255,0.45)", "square", 7, "rgba(255,180,255,0.35)", "rgb(255,0,255)", 1.2),
    "ClockTimer": ("rgb(0,128,0)", "triangle-up", 6, "rgba(150,215,150,0.7)", "rgb(0,140,0)", 1.0),
    "Update": ("rgb(40,40,255)", "circle", 6, "rgba(175,180,255,0.7)", "rgb(50,50,255)", 1.0),
    "Box2d": ("rgb(255,0,255)", "square", 7, "rgba(255,200,255,0.5)", "rgb(255,0,255)", 1.0),
    "Logic": ("rgb(0,110,0)", "triangle-up", 5, "rgba(140,210,140,0.7)", "rgb(0,120,0)", 2.0),
    "Render": ("rgb(255,30,30)", "diamond", 6, "rgba(255,110,110,0.85)", "rgb(255,20,20)", 1.0),
}


def series(name, xs, ys, xa, ya):
    lc, sym, size, fill, edge, lw = STYLES[name]
    return go.Scatter(
        x=xs, y=ys, name=name, mode="lines+markers", showlegend=False,
        line=dict(color=lc, width=lw),
        marker=dict(symbol=sym, size=size, color=fill, line=dict(color=edge, width=1)),
        xaxis=xa, yaxis=ya,
    )


fig = go.Figure()

# upper panel (back to front)
fig.add_trace(series("Idle", frames(idle_ms), idle_ms, "x", "y"))
fig.add_trace(series("Step", frames(step_ms), step_ms, "x", "y"))
fig.add_trace(series("ClockTimer", clock_frames, clock_timer, "x", "y"))

# lower panel
fig.add_trace(series("Box2d", frames(box2d_ms), box2d_ms, "x2", "y2"))
fig.add_trace(series("Update", frames(update_ms), update_ms, "x2", "y2"))
fig.add_trace(series("Logic", logic_frames, logic_ms, "x2", "y2"))
fig.add_trace(series("Render", frames(render_ms), render_ms, "x2", "y2"))

xcommon = dict(
    range=[0, 640], dtick=100, tick0=0, showline=True, linecolor=AXIS_LINE, linewidth=1,
    mirror="ticks", ticks="outside", ticklen=4, tickcolor=AXIS_LINE,
    showgrid=True, gridcolor=GRID, griddash="1px,3px", gridwidth=1, zeroline=False,
    minor=dict(dtick=20, ticks="outside", ticklen=2, tickcolor=AXIS_LINE, showgrid=False),
    tickfont=dict(family=FONT, size=11, color="#333333"),
)
ycommon = dict(
    showline=True, linecolor=AXIS_LINE, linewidth=1, ticks="outside", ticklen=4,
    tickcolor=AXIS_LINE, showgrid=True, gridcolor=GRID, griddash="1px,3px", gridwidth=1,
    zeroline=False, tickfont=dict(family=FONT, size=11, color="#333333"),
)

fig.update_layout(
    width=1213, height=610,
    margin=dict(l=LEFT, r=0, t=PLOT_TOP, b=610 - PLOT_BOTTOM),
    paper_bgcolor="white", plot_bgcolor="white",
    font=dict(family=FONT, size=11, color="#333333"),
    xaxis=dict(xcommon, anchor="y", domain=[0, 1], showticklabels=False),
    yaxis=dict(ycommon, anchor="x", domain=[py(308), 1.0], range=[0, 12], dtick=2,
               minor=dict(dtick=0.5, ticks="outside", ticklen=2, tickcolor=AXIS_LINE, showgrid=False)),
    xaxis2=dict(xcommon, anchor="y2", domain=[0, 1]),
    yaxis2=dict(ycommon, anchor="x2", domain=[0, py(336)], range=[0, 80], dtick=10,
                minor=dict(dtick=2, ticks="outside", ticklen=2, tickcolor=AXIS_LINE, showgrid=False)),
    showlegend=False,
    hovermode=False,
)


# compact framed legends above each panel
def marker_shape(symbol, cx, cy, r, fill, edge):
    base = dict(xref="paper", yref="paper", fillcolor=fill, line=dict(color=edge, width=1))
    if symbol == "circle":
        return dict(base, type="circle", x0=px(cx - r), x1=px(cx + r), y0=py(cy + r), y1=py(cy - r))
    if symbol == "square":
        return dict(base, type="rect", x0=px(cx - r), x1=px(cx + r), y0=py(cy + r), y1=py(cy - r))
    if symbol == "triangle-up":
        path = f"M {px(cx - r)},{py(cy + r * 0.8)} L {px(cx + r)},{py(cy + r * 0.8)} L {px(cx)},{py(cy - r)} Z"
        return dict(base, type="path", path=path)
    path = (f"M {px(cx)},{py(cy - r)} L {px(cx + r)},{py(cy)} "
            f"L {px(cx)},{py(cy + r)} L {px(cx - r)},{py(cy)} Z")
    return dict(base, type="path", path=path)


def add_legend(names, box, entries, cy):
    x0, x1, y0, y1 = box
    fig.add_shape(type="rect", xref="paper", yref="paper", x0=px(x0), x1=px(x1),
                  y0=py(y1), y1=py(y0), fillcolor="white", line=dict(color="#333333", width=1))
    for name, (ls, le, tx) in zip(names, entries):
        lc, sym, size, fill, edge, lw = STYLES[name]
        fig.add_shape(type="line", xref="paper", yref="paper", x0=px(ls), x1=px(le),
                      y0=py(cy), y1=py(cy), line=dict(color=edge, width=1))
        fig.add_shape(marker_shape(sym, (ls + le) / 2, cy, 3.2, fill, edge))
        fig.add_annotation(xref="paper", yref="paper", x=px(tx), y=py(cy), xanchor="left",
                           yanchor="middle", text=name, showarrow=False,
                           font=dict(family=FONT, size=10, color="#222222"))


add_legend(["Step", "Idle", "ClockTimer"], (33, 273, 9, 20),
           [(36, 58, 61), (115, 137, 140), (194, 216, 220)], 14.5)
add_legend(["Update", "Box2d", "Logic", "Render"], (33, 288, 321, 332),
           [(36, 56, 61), (100, 120, 124), (163, 185, 189), (227, 248, 252)], 326.5)

# readout box for the last ClockTimer sample
fig.add_annotation(
    xref="paper", yref="paper", x=px(1208), y=py(69.5), xanchor="right", yanchor="middle",
    text=f"( {clock_frames[-1]}, {clock_timer[-1]} )", showarrow=False,
    font=dict(family=FONT, size=8.5, color="#333333"),
    bgcolor="#f6f6f6", bordercolor="#b4b4b4", borderwidth=1, borderpad=2,
)

fig.write_html("out.html")
